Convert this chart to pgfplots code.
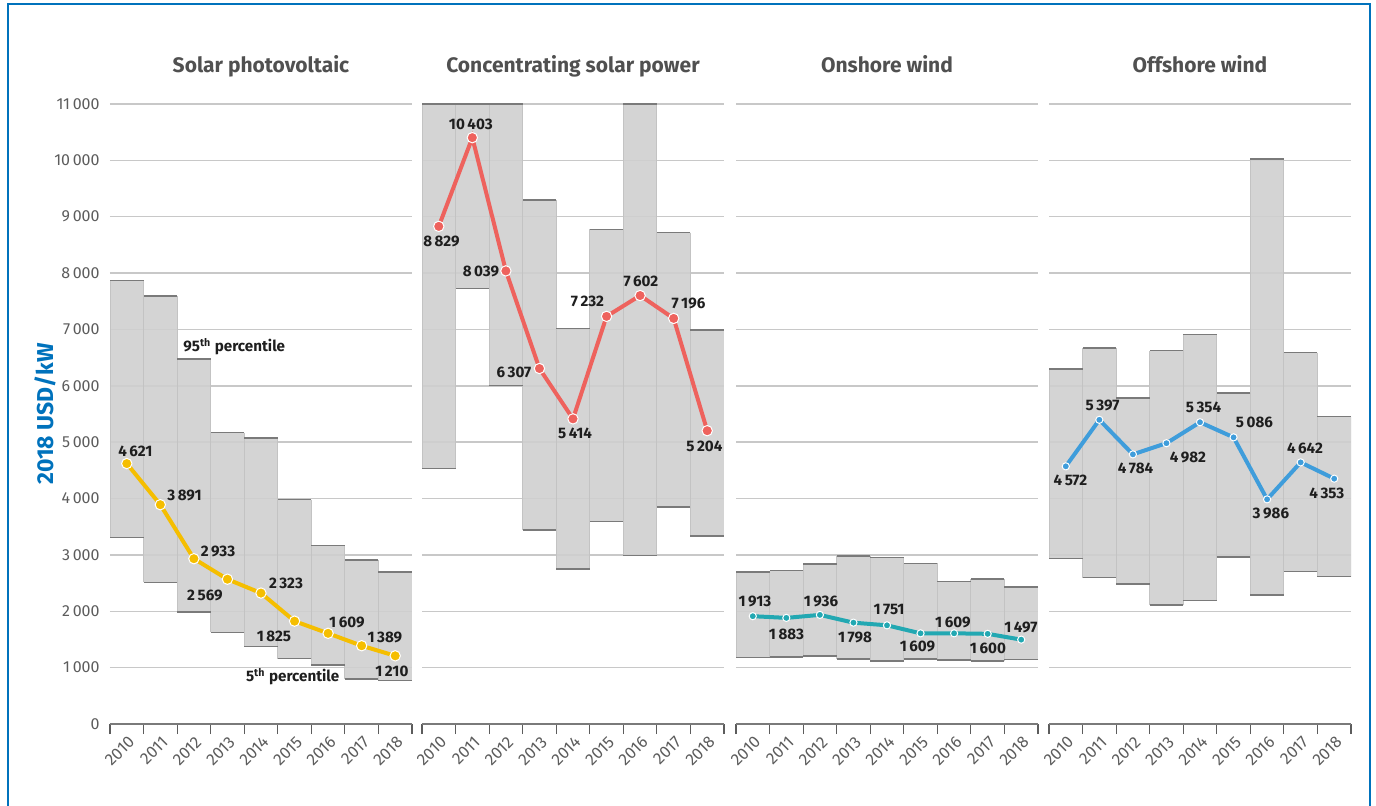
\documentclass[border=0pt]{standalone}
\usepackage{pgfplots}
\pgfplotsset{compat=1.18}
\usepackage{pgfplotstable}
\usepackage{fontspec}
\setmainfont{Fira Sans}

\definecolor{pvc}{HTML}{F5BE00}
\definecolor{cspc}{HTML}{EE625D}
\definecolor{onc}{HTML}{22A8B2}
\definecolor{offc}{HTML}{3F9DDB}
\definecolor{barc}{HTML}{CFCFCF}
\definecolor{sidec}{HTML}{C3C3C3}
\definecolor{edgec}{HTML}{7A7A7A}
\definecolor{gridc}{HTML}{C8C8C8}
\definecolor{tickc}{HTML}{5C5C5C}
\definecolor{titlec}{HTML}{505050}
\definecolor{bluec}{HTML}{0072BC}
\definecolor{labc}{HTML}{1E1E1E}

% x = year index (0 = 2010), low = 5th percentile, high = 95th percentile,
% val = weighted average, dx/dy = label offset in pt
\pgfplotstableread[col sep=comma]{
x,low,high,val,dx,dy
0,3312,7866,4621,4.3,6.3
1,2514,7590,3891,12.1,4.85
2,1987,6476,2933,12.05,3.85
3,1627,5170,2569,-11.25,-7.9
4,1372,5075,2323,12.5,5.0
5,1159,3980,1825,-10.3,-7.5
6,1047,3165,1609,9.4,5.65
7,798,2905,1389,11.65,4.35
8,775,2697,1210,-1.65,-7.6
}\pv
\pgfplotstableread[col sep=comma]{
x,low,high,val,dx,dy
0,4530,11000,8829,1.35,-7.65
1,7724,11000,10403,-0.75,6.85
2,6003,11000,8039,-12.45,-0.35
3,3447,9297,6307,-12.75,-2.1
4,2745,7020,5414,1.0,-7.5
5,3590,8776,7232,-9.55,7.35
6,2993,11000,7602,0.4,6.95
7,3845,8717,7196,7.4,7.7
8,3341,6990,5204,-1.4,-8.0
}\csp
\pgfplotstableread[col sep=comma]{
x,low,high,val,dx,dy
0,1177,2692,1913,1.1,7.6
1,1189,2721,1883,0.1,-8.05
2,1207,2834,1936,0.55,6.95
3,1153,2981,1798,0.75,-7.5
4,1118,2957,1751,1.0,8.15
5,1153,2851,1609,-1.55,-6.7
6,1136,2525,1609,-0.6,5.3
7,1118,2578,1600,0.15,-7.1
8,1148,2436,1497,-0.15,5.95
}\onw
\pgfplotstableread[col sep=comma]{
x,low,high,val,dx,dy
0,2940,6299,4572,2.35,-6.85
1,2596,6666,5397,1.6,7.4
2,2489,5779,4784,1.3,-6.95
3,2111,6624,4982,10.75,-7.25
4,2188,6914,5354,1.75,7.45
5,2958,5868,5086,10.45,7.5
6,2289,10020,3986,1.9,-7.0
7,2703,6588,4642,2.15,7.05
8,2614,5453,4353,-3.65,-7.3
}\offw

\pgfkeys{/pgf/number format/.cd, assume math mode=true, 1000 sep={\,}}

\pgfplotsset{
  panel/.style={
    width=151pt, height=310pt, scale only axis, anchor=south west,
    xmin=-0.5, xmax=8.5, ymin=0, ymax=11000,
    scaled y ticks=false,
    ytick={0,1000,...,11000},
    ymajorgrids, grid style={gridc, line width=0.7pt},
    % ticks at the category boundaries, each year label set half a category to the right
    xtick={-0.5,0.5,...,8.5},
    xticklabels={2010,2011,2012,2013,2014,2015,2016,2017,2018,{}},
    major tick length=5pt, tick align=outside,
    ytick style={draw=none}, xtick style={draw=tickc, line width=0.6pt},
    axis x line*=bottom, axis y line*=left,
    x axis line style={draw=edgec, line width=0.9pt},
    y axis line style={draw=none},
    yticklabel style={font=\fontsize{8}{9}\selectfont, text=tickc, inner sep=0pt},
    xticklabel style={font=\fontsize{8.3}{10}\selectfont, text=tickc, inner sep=0pt,
      xshift=10.9pt, yshift=-2.5pt, rotate=45, anchor=east},
    title style={font=\fontsize{10.5}{12}\selectfont\bfseries, text=titlec,
      anchor=base, yshift=10pt},
  },
  bars/.style={draw=none, mark=none,
    error bars/.cd, y dir=plus, y explicit, error mark=none,
    error bar style={line width=16.778pt, draw=barc, draw opacity=0.9}},
  sides/.style={draw=none, mark=none,
    error bars/.cd, y dir=plus, y explicit, error mark=none,
    error bar style={line width=0.4pt, draw=sidec}},
  edges/.style={only marks, mark=-, mark size=8.389pt,
    mark options={draw=edgec, line width=0.8pt}},
  serie/.style n args={2}{line width=2pt, color=#1, mark=*, mark size=#2,
    mark options={fill=#1, draw=white, line width=0.5pt, solid}},
  labels/.style={draw=none, mark=none, point meta=explicit,
    nodes near coords={\pgfmathprintnumber{\pgfplotspointmeta}},
    nodes near coords style={anchor=center,
      font=\fontsize{7.6}{8}\selectfont\bfseries, text=labc, inner sep=0pt}},
}
% one panel: range bars (5th to 95th percentile), their edges, the average line and its labels
% label positions: value shifted by dx/dy points (1 category = 16.778pt, 1pt = 35.484 USD/kW)
\newcommand\panelplots[3]{%
  \addplot[bars] table[x=x, y=low, y error plus expr=\thisrow{high}-\thisrow{low}]{#1};
  \addplot[sides] table[x expr=\thisrow{x}-0.5, y=low, y error plus expr=\thisrow{high}-\thisrow{low}]{#1};
  \addplot[sides] table[x expr=\thisrow{x}+0.5, y=low, y error plus expr=\thisrow{high}-\thisrow{low}]{#1};
  \addplot[edges] table[x=x, y=high]{#1};
  \addplot[edges] table[x=x, y=low]{#1};
  \addplot[serie={#2}{#3}] table[x=x, y=val]{#1};
  \addplot[labels] table[x expr=\thisrow{x}+\thisrow{dx}/16.778,
    y expr=\thisrow{val}+\thisrow{dy}*35.484, meta=val]{#1};
}

\begin{document}
\begin{tikzpicture}
\useasboundingbox (0,0) rectangle (688pt,-402.5pt);
\draw[bluec, line width=0.8pt] (4pt,-410pt) -- (4pt,-2pt) -- (685pt,-2pt) -- (685pt,-410pt);

\begin{axis}[panel, at={(55pt,-362pt)}, title={Solar photovoltaic}]
  \panelplots{\pv}{pvc}{2.6pt}
  \node[anchor=west, inner sep=0pt, font=\fontsize{7.6}{8}\selectfont\bfseries, text=labc]
    at (axis cs:1.675,6694) {95\textsuperscript{th} percentile};
  \node[anchor=west, inner sep=0pt, font=\fontsize{7.6}{8}\selectfont\bfseries, text=labc]
    at (axis cs:3.543,839) {5\textsuperscript{th} percentile};
\end{axis}

\begin{axis}[panel, at={(211pt,-362pt)}, title={Concentrating solar power}, yticklabels={}]
  \panelplots{\csp}{cspc}{2.6pt}
\end{axis}

\begin{axis}[panel, at={(368pt,-362pt)}, title={Onshore wind}, yticklabels={}]
  \panelplots{\onw}{onc}{1.8pt}
\end{axis}

\begin{axis}[panel, at={(524.5pt,-362pt)}, title={Offshore wind}, yticklabels={}]
  \panelplots{\offw}{offc}{1.8pt}
\end{axis}

\node[rotate=90, font=\fontsize{11.5}{13}\selectfont\bfseries, text=bluec]
  at (22.75pt,-207pt) {2018 USD/kW};
\end{tikzpicture}
\end{document}
